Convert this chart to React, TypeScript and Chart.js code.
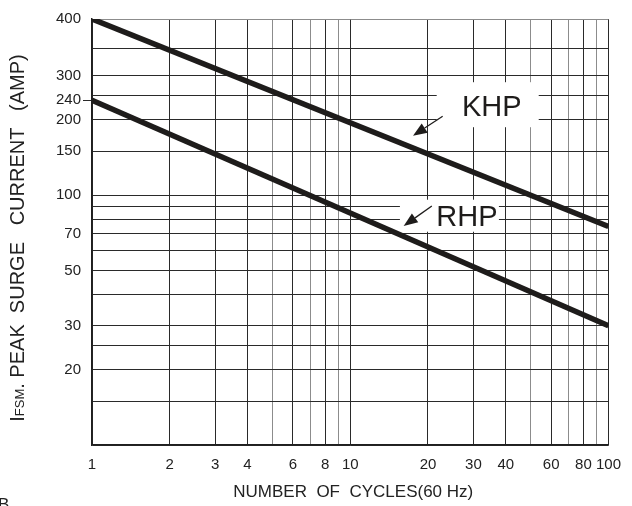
import React, { useEffect, useRef } from 'react';
import { Chart, registerables, LogarithmicScale } from 'chart.js';

Chart.register(...registerables);

// ---------------- data ----------------
const cycles = [1, 100];
const khpCurrent = [400, 75];
const rhpCurrent = [240, 30];

const xGridValues = [1, 2, 3, 4, 5, 6, 7, 8, 9, 10, 20, 30, 40, 50, 60, 70, 80, 90, 100];
const xTickLabels = [1, 2, 3, 4, 6, 8, 10, 20, 30, 40, 60, 80, 100];
const xFaintLines = [5, 7, 9, 50, 70, 90];

const yGridValues = [10, 15, 20, 25, 30, 40, 50, 60, 70, 80, 90, 100, 150, 200, 240, 250, 300, 350, 400];
const yTickLabels = [20, 30, 50, 70, 100, 150, 200, 240, 300, 400];
const yTickOnly = [240];
const yFaintLines = [400];

const seriesNames = ['KHP', 'RHP'];
// annotation anchors (data coordinates: cycles, amps)
const nameAnchorX = [35.3, 28.3];
const nameAnchorY = [225, 82];
const arrowTailX = [22.8, 20.7];
const arrowTailY = [207, 90.5];
const arrowTipX = [17.5, 16.1];
const arrowTipY = [173, 75.3];

// ---------------- y axis warp (reference axis: log below 300, compressed above) ----------------
const Y_KNOTS = [10, 300, 350, 400];
const Y_FRACS = [0, 0.8662, 0.9319, 1];
const LK = Y_KNOTS.map((k) => Math.log10(k));

function warp(v: number) {
  const lv = Math.log10(v);
  let i = 0;
  while (i < LK.length - 2 && lv > LK[i + 1]) i++;
  return Y_FRACS[i] + ((lv - LK[i]) / (LK[i + 1] - LK[i])) * (Y_FRACS[i + 1] - Y_FRACS[i]);
}
function unwarp(f: number) {
  let i = 0;
  while (i < Y_FRACS.length - 2 && f > Y_FRACS[i + 1]) i++;
  const l = LK[i] + ((f - Y_FRACS[i]) / (Y_FRACS[i + 1] - Y_FRACS[i])) * (LK[i + 1] - LK[i]);
  return Math.pow(10, l);
}

class WarpedLogScale extends LogarithmicScale {
  static id = 'warpedLog';
  static defaults = {};
  getPixelForValue(value: any) {
    if (value === undefined || value === 0) value = (this as any).min;
    if (value === null || isNaN(value)) return NaN;
    return this.getPixelForDecimal(warp(value));
  }
  getValueForPixel(pixel: number) {
    return unwarp(this.getDecimalForPixel(pixel));
  }
}
Chart.register(WarpedLogScale as any);

const FONT = "'Liberation Sans', Arial, Helvetica, sans-serif";
const INK = '#1e1c1b';
const GRID = '#2a2a2a';
const FAINT = '#8c8c8c';

function drawArrow(ctx: CanvasRenderingContext2D, x1: number, y1: number, x2: number, y2: number) {
  const ang = Math.atan2(y2 - y1, x2 - x1);
  const headLen = 14;
  const headW = 5.5;
  const bx = x2 - headLen * Math.cos(ang);
  const by = y2 - headLen * Math.sin(ang);
  ctx.beginPath();
  ctx.moveTo(x1, y1);
  ctx.lineTo(bx, by);
  ctx.lineWidth = 1.3;
  ctx.stroke();
  ctx.beginPath();
  ctx.moveTo(x2, y2);
  ctx.lineTo(bx + headW * Math.sin(ang), by - headW * Math.cos(ang));
  ctx.lineTo(bx - headW * Math.sin(ang), by + headW * Math.cos(ang));
  ctx.closePath();
  ctx.fill();
}

// white masks behind series names: [left, right, top, bottom] padding around the text centre
const maskPads = [
  [55, 47, 25, 20],
  [67, 32, 17, 15],
];

const decorPlugin = {
  id: 'decor',
  beforeDatasetsDraw(chart: any) {
    const { ctx, scales } = chart;
    ctx.save();
    ctx.fillStyle = '#ffffff';
    seriesNames.forEach((_, i) => {
      const cx = scales.x.getPixelForValue(nameAnchorX[i]);
      const cy = scales.y.getPixelForValue(nameAnchorY[i]);
      const p = maskPads[i];
      ctx.fillRect(cx - p[0], cy - p[2], p[0] + p[1], p[2] + p[3]);
    });
    ctx.restore();
  },
  afterDatasetsDraw(chart: any) {
    const { ctx, scales } = chart;
    ctx.save();
    ctx.fillStyle = INK;
    ctx.strokeStyle = INK;
    ctx.font = `29px ${FONT}`;
    ctx.textAlign = 'center';
    ctx.textBaseline = 'middle';
    seriesNames.forEach((name, i) => {
      const cx = scales.x.getPixelForValue(nameAnchorX[i]);
      const cy = scales.y.getPixelForValue(nameAnchorY[i]);
      ctx.fillText(name, cx, cy + 1);
      drawArrow(
        ctx,
        scales.x.getPixelForValue(arrowTailX[i]),
        scales.y.getPixelForValue(arrowTailY[i]),
        scales.x.getPixelForValue(arrowTipX[i]),
        scales.y.getPixelForValue(arrowTipY[i])
      );
    });
    ctx.restore();
  },
  afterDraw(chart: any) {
    const { ctx, chartArea } = chart;
    ctx.save();
    ctx.fillStyle = '#222';
    // x title
    ctx.font = `17px ${FONT}`;
    ctx.textAlign = 'center';
    ctx.textBaseline = 'middle';
    ctx.fillText('NUMBER  OF  CYCLES(60 Hz)', (chartArea.left + chartArea.right) / 2 + 3, 492);
    // y title, rotated
    const parts = [
      { t: 'I', s: 20 },
      { t: 'FSM', s: 13 },
      { t: '. PEAK  SURGE   CURRENT   (AMP)', s: 20 },
    ];
    let total = 0;
    const widths = parts.map((p) => {
      ctx.font = `${p.s}px ${FONT}`;
      const w = ctx.measureText(p.t).width;
      total += w;
      return w;
    });
    ctx.translate(24, 238);
    ctx.rotate(-Math.PI / 2);
    ctx.textAlign = 'left';
    ctx.textBaseline = 'alphabetic';
    let x = -total / 2;
    parts.forEach((p, i) => {
      ctx.font = `${p.s}px ${FONT}`;
      ctx.fillText(p.t, x, 0);
      x += widths[i];
    });
    ctx.restore();
    // stray glyph at the bottom-left corner of the reference
    ctx.save();
    ctx.fillStyle = '#222';
    ctx.font = `17px ${FONT}`;
    ctx.textAlign = 'left';
    ctx.textBaseline = 'top';
    ctx.fillText('B', -2, 497);
    ctx.restore();
  },
};

export default function App() {
  const canvasRef = useRef<HTMLCanvasElement | null>(null);

  useEffect(() => {
    document.body.style.margin = '0';
    document.body.style.overflow = 'hidden';
    const canvas = canvasRef.current;
    if (!canvas) return;
    const chart = new Chart(canvas, {
      type: 'line',
      data: {
        datasets: [
          {
            label: seriesNames[0],
            data: cycles.map((c, i) => ({ x: c, y: khpCurrent[i] })),
            borderColor: INK,
            borderWidth: 5.5,
            pointRadius: 0,
            tension: 0,
          },
          {
            label: seriesNames[1],
            data: cycles.map((c, i) => ({ x: c, y: rhpCurrent[i] })),
            borderColor: INK,
            borderWidth: 5.5,
            pointRadius: 0,
            tension: 0,
          },
        ],
      },
      options: {
        responsive: false,
        animation: false,
        devicePixelRatio: 1,
        layout: { padding: { left: 30, right: 22, top: 19, bottom: 21 } },
        plugins: { legend: { display: false }, tooltip: { enabled: false }, title: { display: false } },
        scales: {
          x: {
            type: 'logarithmic',
            min: 1,
            max: 100,
            afterBuildTicks: (s: any) => {
              s.ticks = xGridValues.map((v) => ({ value: v }));
            },
            afterFit: (s: any) => {
              s.height = 40;
            },
            grid: {
              color: (c: any) => (xFaintLines.includes(c.tick?.value) ? FAINT : GRID),
              drawTicks: false,
              lineWidth: 1,
            },
            border: { display: true, color: '#1f1f1f', width: 1.5 },
            ticks: {
              autoSkip: false,
              maxRotation: 0,
              minRotation: 0,
              padding: 11,
              color: '#222',
              font: { family: FONT, size: 15 },
              callback: (v: any) => (xTickLabels.includes(v) ? String(v) : ''),
            },
          },
          y: {
            type: 'warpedLog' as any,
            min: 10,
            max: 400,
            afterBuildTicks: (s: any) => {
              s.ticks = yGridValues.map((v) => ({ value: v }));
            },
            afterFit: (s: any) => {
              s.width = 62;
            },
            grid: {
              color: (c: any) =>
                yTickOnly.includes(c.tick?.value) ? 'rgba(0,0,0,0)' : yFaintLines.includes(c.tick?.value) ? FAINT : GRID,
              tickColor: (c: any) => (yTickOnly.includes(c.tick?.value) ? GRID : 'rgba(0,0,0,0)'),
              tickLength: 9,
              lineWidth: 1,
            },
            border: { display: true, color: '#1f1f1f', width: 1.5 },
            ticks: {
              autoSkip: false,
              padding: 2,
              color: '#222',
              font: { family: FONT, size: 15 },
              callback: (v: any) => (yTickLabels.includes(v) ? String(v) : ''),
            },
          },
        },
      },
      plugins: [decorPlugin],
    } as any);
    return () => chart.destroy();
  }, []);

  return (
    <div style={{ width: 632, height: 506 }}>
      <canvas ref={canvasRef} width={632} height={506} style={{ display: 'block' }} />
    </div>
  );
}
